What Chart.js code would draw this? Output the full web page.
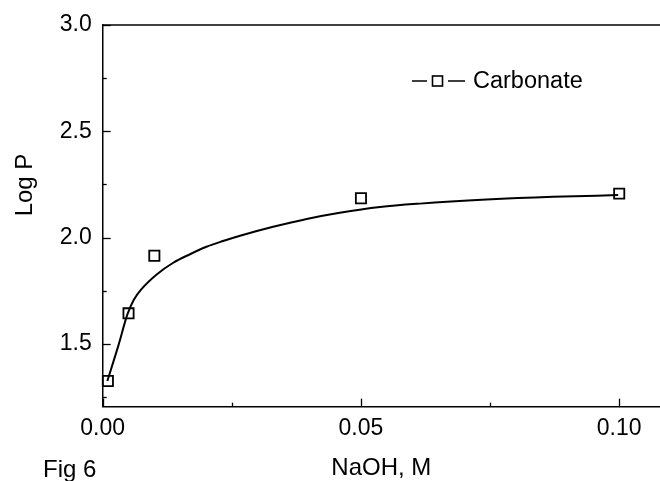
<!DOCTYPE html>
<html>
<head>
<meta charset="utf-8">
<script src="https://cdn.jsdelivr.net/npm/chart.js@4"></script>
<style>
html,body{margin:0;padding:0;background:#fff;}
#wrap{width:660px;height:481px;position:relative;}
</style>
</head>
<body>
<div id="wrap"><canvas id="c"></canvas></div>
<script>
// Measured data (NaOH concentration, M  vs  Log P)
const naoh = [0.001, 0.005, 0.01, 0.05, 0.1];
const logP = [1.326, 1.644, 1.915, 2.185, 2.207];

// Fitted curve
const fitX = [0.0009, 0.003, 0.0048, 0.006, 0.00755, 0.01045, 0.01366, 0.0169, 0.0201, 0.0233, 0.0266, 0.033, 0.0395, 0.0459, 0.0537, 0.0614, 0.0743, 0.0872, 0.0998];
const fitY = [1.326, 1.490, 1.640, 1.707, 1.759, 1.827, 1.882, 1.922, 1.957, 1.984, 2.009, 2.051, 2.088, 2.117, 2.144, 2.160, 2.179, 2.192, 2.200];

const xTicks = [0, 0.025, 0.05, 0.075, 0.1];
const xTickLabels = ['0.00', '', '0.05', '', '0.10'];
const yTicks = [1.25, 1.5, 1.75, 2.0, 2.25, 2.5, 2.75, 3.0];
const yTickLabels = ['', '1.5', '', '2.0', '', '2.5', '', '3.0'];

const seriesName = 'Carbonate';
const xTitle = 'NaOH, M';
const yTitle = 'Log P';
const figLabel = 'Fig 6';

const FONT = "'Liberation Sans', Arial, Helvetica, sans-serif";

const pointsData = naoh.map((x, i) => ({x: x, y: logP[i]}));
const fitData = fitX.map((x, i) => ({x: x, y: fitY[i]}));

const decor = {
  id: 'decor',
  afterDraw(chart) {
    const ctx = chart.ctx;
    const xs = chart.scales.x, ys = chart.scales.y;
    const ca = chart.chartArea;
    ctx.save();
    ctx.strokeStyle = '#000';
    ctx.lineWidth = 1.5;
    // top frame line
    ctx.beginPath();
    ctx.moveTo(ca.left, ca.top);
    ctx.lineTo(ca.right, ca.top);
    ctx.stroke();
    // inward ticks
    ctx.lineWidth = 1.3;
    xTicks.forEach((v, i) => {
      const px = Math.round(xs.getPixelForValue(v)) + 0.5;
      const len = xTickLabels[i] ? 8 : 4;
      ctx.beginPath();
      ctx.moveTo(px, ca.bottom);
      ctx.lineTo(px, ca.bottom - len);
      ctx.stroke();
    });
    yTicks.forEach((v, i) => {
      const py = Math.round(ys.getPixelForValue(v)) + 0.5;
      const len = yTickLabels[i] ? 8 : 4;
      ctx.beginPath();
      ctx.moveTo(ca.left, py);
      ctx.lineTo(ca.left + len, py);
      ctx.stroke();
    });
    // legend
    const ly = 81;
    ctx.lineWidth = 1.5;
    ctx.beginPath();
    ctx.moveTo(412, ly); ctx.lineTo(427, ly);
    ctx.moveTo(448, ly); ctx.lineTo(465, ly);
    ctx.stroke();
    ctx.lineWidth = 1.6;
    ctx.strokeRect(432.5, ly - 5, 10, 10);
    ctx.fillStyle = '#000';
    ctx.font = '23.5px ' + FONT;
    ctx.textAlign = 'left';
    ctx.textBaseline = 'middle';
    ctx.fillText(seriesName, 473, ly + 1);
    // y title
    ctx.save();
    ctx.translate(25, 185);
    ctx.rotate(-Math.PI / 2);
    ctx.font = '24px ' + FONT;
    ctx.textAlign = 'center';
    ctx.textBaseline = 'middle';
    ctx.fillText(yTitle, 0, 0);
    ctx.restore();
    // figure label
    ctx.font = '24px ' + FONT;
    ctx.textAlign = 'left';
    ctx.textBaseline = 'alphabetic';
    ctx.fillText(figLabel, 43, 477);
    ctx.restore();
  }
};

new Chart(document.getElementById('c'), {
  type: 'scatter',
  data: {
    datasets: [
      {
        label: seriesName + ' fit',
        data: fitData,
        showLine: true,
        borderColor: '#000',
        borderWidth: 2,
        pointRadius: 0,
        pointHoverRadius: 0,
        cubicInterpolationMode: 'monotone',
        fill: false,
        clip: false,
        order: 2
      },
      {
        label: seriesName,
        data: pointsData,
        showLine: false,
        pointStyle: 'rect',
        pointRadius: 7.2,
        pointHoverRadius: 7.2,
        pointBorderWidth: 1.8,
        pointBorderColor: '#000',
        pointBackgroundColor: 'rgba(0,0,0,0)',
        clip: false,
        order: 1
      }
    ]
  },
  options: {
    responsive: true,
    maintainAspectRatio: false,
    animation: false,
    devicePixelRatio: 1,
    layout: {autoPadding: false, padding: {top: 25, right: 0, left: 0, bottom: 0}},
    plugins: {legend: {display: false}, tooltip: {enabled: false}},
    scales: {
      x: {
        type: 'linear',
        min: 0,
        max: 0.1079,
        afterBuildTicks(scale) { scale.ticks = xTicks.map(v => ({value: v})); },
        afterFit(scale) { scale.height = 74.3; scale.paddingRight = 0; scale.paddingLeft = 0; },
        grid: {display: false, drawTicks: false},
        border: {display: true, color: '#000', width: 1.5},
        ticks: {
          padding: 8,
          color: '#000',
          font: {family: FONT, size: 23},
          maxRotation: 0,
          autoSkip: false,
          callback(value, index) { return xTickLabels[index]; }
        },
        title: {
          display: true,
          text: xTitle,
          color: '#000',
          font: {family: FONT, size: 24, lineHeight: 1},
          padding: {top: 0, bottom: 1}
        }
      },
      y: {
        type: 'linear',
        min: 1.205,
        max: 3.0,
        afterBuildTicks(scale) { scale.ticks = yTicks.map(v => ({value: v})); },
        afterFit(scale) { scale.width = 102.7; scale.paddingTop = 0; scale.paddingBottom = 0; },
        grid: {display: false, drawTicks: false},
        border: {display: true, color: '#000', width: 1.5},
        ticks: {
          padding: 11,
          color: '#000',
          font: {family: FONT, size: 23},
          autoSkip: false,
          callback(value, index) { return yTickLabels[index]; }
        }
      }
    }
  },
  plugins: [decor]
});
</script>
</body>
</html>
